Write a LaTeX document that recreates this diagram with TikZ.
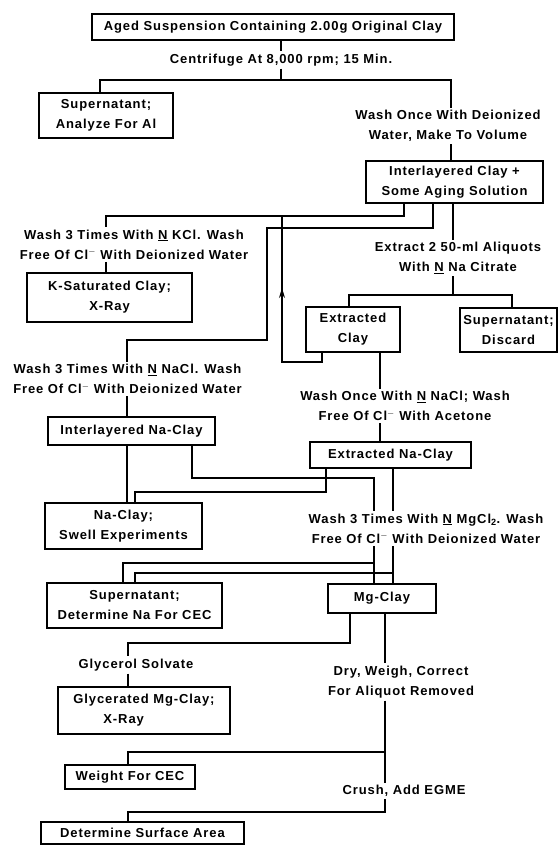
\documentclass[tikz,border=0pt]{standalone}
\usepackage{fontspec}
\setmainfont[LetterSpace=7]{Liberation Sans}
\usetikzlibrary{arrows.meta}
\begin{document}
\begin{tikzpicture}[x=1pt,y=-1pt,line width=1.1pt,
box/.style={draw,align=center,inner sep=0pt,font=\fontsize{13}{20}\selectfont\bfseries},
lab/.style={align=center,inner sep=2pt,font=\fontsize{13}{20}\selectfont\bfseries}]
\useasboundingbox (0,0) rectangle (558,845);
\node[box,minimum width=362,minimum height=26] (aged) at (273,27) {Aged Suspension Containing 2.00g Original Clay};
\node[lab] (cent) at (281,60) {Centrifuge At 8,000 rpm; 15 Min.};
\node[box,minimum width=134,minimum height=45] (supAl) at (106,115.5) {Supernatant;\\Analyze For Al};
\node[lab] (washOnce) at (448,126) {Wash Once With Deionized\\Water, Make To Volume};
\node[box,minimum width=177,minimum height=42] (inter) at (454.5,182) {Interlayered Clay +\\Some Aging Solution};
\node[lab] (kcl) at (134,244.5) {Wash 3 Times With \underline{N} KCl. Wash\\Free Of Cl$^-$ With Deionized Water};
\node[box,minimum width=165,minimum height=49] (ksat) at (109.5,297.5) {K-Saturated Clay;\\X-Ray};
\node[lab] (extr) at (458,258) {Extract 2 50-ml Aliquots\\With \underline{N} Na Citrate};
\node[box,minimum width=94,minimum height=45] (exClay) at (353,329.5) {Extracted\\Clay};
\node[box,minimum width=97,minimum height=44] (supDis) at (508.5,330) {Supernatant;\\Discard};
\node[lab] (nacl) at (127.5,379) {Wash 3 Times With \underline{N} NaCl. Wash\\Free Of Cl$^-$ With Deionized Water};
\node[lab] (washNa) at (405,406) {Wash Once With \underline{N} NaCl; Wash\\Free Of Cl$^-$ With Acetone};
\node[box,minimum width=167,minimum height=28] (interNa) at (131.5,431) {Interlayered Na-Clay};
\node[box,minimum width=161,minimum height=26] (exNa) at (390.5,455) {Extracted Na-Clay};
\node[box,minimum width=157,minimum height=46] (naClay) at (123.5,526) {Na-Clay;\\Swell Experiments};
\node[lab] (mgcl) at (426,528.5) {Wash 3 Times With \underline{N} MgCl\textsubscript{2}. Wash\\Free Of Cl$^-$ With Deionized Water};
\node[box,minimum width=175,minimum height=45] (supNa) at (134.5,605.5) {Supernatant;\\Determine Na For CEC};
\node[box,minimum width=108,minimum height=29] (mgClay) at (382,598.5) {Mg-Clay};
\node[lab] (glyS) at (136,665) {Glycerol Solvate};
\node[box,minimum width=172,minimum height=47,align=left] (glyM) at (144,710.5) {Glycerated Mg-Clay;\\\hspace*{30pt}X-Ray};
\node[lab] (dry) at (401,682) {Dry, Weigh, Correct\\For Aliquot Removed};
\node[box,minimum width=130,minimum height=24] (weight) at (130,777) {Weight For CEC};
\node[lab] (crush) at (404,791) {Crush, Add EGME};
\node[box,minimum width=203,minimum height=22] (surf) at (142.5,833) {Determine Surface Area};
\coordinate (jA) at (100,80);
\coordinate (jB) at (451,80);
\coordinate (k1) at (404,216);
\coordinate (k2) at (106,216);
\coordinate (n1) at (433,228);
\coordinate (n2) at (267,228);
\coordinate (n3) at (267,340);
\coordinate (n4) at (127,340);
\coordinate (e1) at (453,295);
\coordinate (e2) at (349,295);
\coordinate (e3) at (512,295);
\coordinate (r1) at (322,362);
\coordinate (r2) at (282,362);
\coordinate (tip) at (282,288);
\coordinate (w1) at (380,0);
\coordinate (s1) at (326,492);
\coordinate (s2) at (135,492);
\coordinate (m1) at (192,478);
\coordinate (m2) at (374,478);
\coordinate (m3) at (393,0);
\coordinate (p1) at (123,563);
\coordinate (p2) at (374,563);
\coordinate (p3) at (135,573);
\coordinate (p4) at (393,573);
\coordinate (g1) at (350,643);
\coordinate (g2) at (128,643);
\coordinate (d1) at (385,0);
\coordinate (d2) at (385,752);
\coordinate (d3) at (128,752);
\coordinate (d4) at (385,812);
\coordinate (d5) at (128,812);
\draw (aged.south -| cent.north) -- (cent.north);
\draw (cent.south) -- (cent.south |- jA);
\draw (supAl.north -| jA) -- (jA) -- (jB) -- (washOnce.north -| jB);
\draw (washOnce.south -| jB) -- (inter.north -| jB);
\draw (inter.south -| k1) -- (k1) -- (k2) -- (kcl.north -| k2);
\draw (kcl.south -| k2) -- (ksat.north -| k2);
\draw (inter.south -| n1) -- (n1) -- (n2) -- (n3) -- (n4) -- (nacl.north -| n4);
\draw (nacl.south -| n4) -- (interNa.north -| n4);
\draw (inter.south -| e1) -- (extr.north -| e1);
\draw (extr.south -| e1) -- (e1);
\draw (exClay.north -| e2) -- (e2) -- (e3) -- (supDis.north -| e3);
\draw (exClay.south -| r1) -- (r1) -- (r2) -- (r2 |- k1);
\draw[line width=0.9pt,-{Stealth[length=10pt,width=6pt]}] (r2) -- (tip);
\draw (exClay.south -| w1) -- (washNa.north -| w1);
\draw (washNa.south -| w1) -- (exNa.north -| w1);
\draw (interNa.south -| n4) -- (naClay.north -| n4);
\draw (exNa.south -| s1) -- (s1) -- (s2) -- (naClay.north -| s2);
\draw (interNa.south -| m1) -- (m1) -- (m2) -- (mgcl.north -| m2);
\draw (exNa.south -| m3) -- (mgcl.north -| m3);
\draw (mgcl.south -| m2) -- (mgClay.north -| m2);
\draw (mgcl.south -| m3) -- (mgClay.north -| m3);
\draw (supNa.north -| p1) -- (p1) -- (p2);
\draw (supNa.north -| p3) -- (p3) -- (p4);
\draw (mgClay.south -| g1) -- (g1) -- (g2) -- (glyS.north -| g2);
\draw (glyS.south -| g2) -- (glyM.north -| g2);
\draw (mgClay.south -| d1) -- (dry.north -| d1);
\draw (dry.south -| d1) -- (crush.north -| d1);
\draw (d2) -- (d3) -- (weight.north -| d3);
\draw (crush.south -| d1) -- (d4) -- (d5) -- (surf.north -| d5);
\end{tikzpicture}
\end{document}
